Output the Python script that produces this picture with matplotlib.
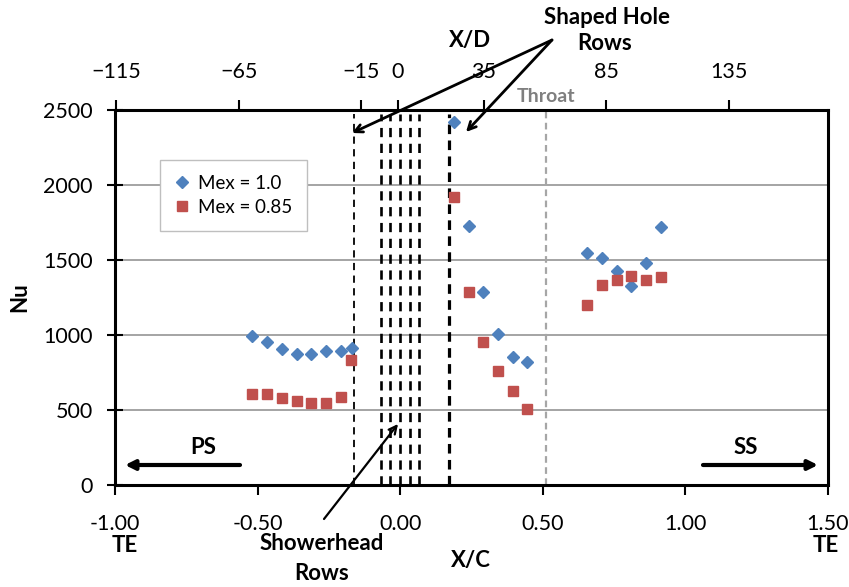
import matplotlib
matplotlib.use("Agg")
import matplotlib.pyplot as plt

# ---------------- data ----------------
xc_mex10 = [-0.520, -0.467, -0.415, -0.362, -0.312, -0.259, -0.208, -0.170,
            0.187, 0.240, 0.292, 0.344, 0.396, 0.446,
            0.655, 0.707, 0.760, 0.810, 0.863, 0.915]
nu_mex10 = [993, 956, 905, 871, 871, 893, 893, 916,
            2418, 1727, 1284, 1004, 851, 818,
            1549, 1516, 1429, 1329, 1482, 1718]

xc_mex085 = [-0.520, -0.467, -0.415, -0.362, -0.312, -0.259, -0.208, -0.173,
             0.187, 0.240, 0.292, 0.344, 0.396, 0.446,
             0.655, 0.707, 0.760, 0.810, 0.863, 0.915]
nu_mex085 = [605, 605, 580, 560, 547, 549, 587, 831,
             1918, 1284, 951, 762, 627, 505,
             1198, 1333, 1367, 1396, 1367, 1384]

showerhead_rows = [-0.066, -0.035, -0.002, 0.033, 0.067]
shaped_rows = [-0.161, 0.172]
throat_xc = 0.51

x_ticks = [-1.0, -0.5, 0.0, 0.5, 1.0, 1.5]
x_ticklabels = ["-1.00", "-0.50", "0.00", "0.50", "1.00", "1.50"]
y_ticks = [0, 500, 1000, 1500, 2000, 2500]
xd_ticks = [-115, -65, -15, 0, 35, 85, 135]

# ---------------- style ----------------
plt.rcParams['font.family'] = ['Lato', 'DejaVu Sans']
BLUE = '#4F81BD'
RED = '#C0504D'
W, H = 849, 587

fig = plt.figure(figsize=(W / 100, H / 100), dpi=100)
ax = fig.add_axes([115 / W, 1 - 485 / H, (828 - 115) / W, (485 - 110) / H])

def fp(x, y):
    return (x / W, 1 - y / H)

ax.set_xlim(-1.0, 1.5)
ax.set_ylim(0, 2500)
ax.set_xticks(x_ticks)
ax.set_xticklabels(x_ticklabels)
ax.set_yticks(y_ticks)
ax.tick_params(axis='x', direction='out', length=7, width=1.5, labelsize=15.5, pad=14)
ax.tick_params(axis='y', direction='inout', length=12, width=1.5, labelsize=15.5, pad=10)
for s in ax.spines.values():
    s.set_linewidth(2.2)
    s.set_color('black')

for y in [500, 1000, 1500, 2000]:
    ax.axhline(y, color='#8c8c8c', lw=1.1, zorder=0)

# row lines
ax.vlines(showerhead_rows, 0, 2470, colors='black', linestyles=(0, (3.5, 2.5)), lw=1.9, zorder=1)
ax.vlines([shaped_rows[0]], 0, 2470, colors='black', linestyles=(0, (4, 3)), lw=1.3, zorder=1)
ax.vlines([shaped_rows[1]], 0, 2470, colors='black', linestyles=(0, (3, 2)), lw=2.3, zorder=1)
ax.vlines([throat_xc], 0, 2500, colors='#a6a6a6', linestyles=(0, (3, 2)), lw=1.6, zorder=1)

ax.plot(xc_mex10, nu_mex10, 'D', color=BLUE, ms=6.5, ls='none', label='Mex = 1.0', zorder=3)
ax.plot(xc_mex085, nu_mex085, 's', color=RED, ms=6.5, ls='none', label='Mex = 0.85', zorder=3)

leg = fig.legend(loc='upper left', bbox_to_anchor=fp(160, 160), borderaxespad=0,
                 fontsize=13.5, frameon=True, fancybox=False, labelspacing=0.35,
                 handlelength=0.7, handletextpad=0.5, borderpad=0.8, framealpha=1)
leg.get_frame().set_edgecolor('#bfbfbf')
leg.get_frame().set_linewidth(1.0)

# top X/D axis
ax2 = ax.twiny()
ax2.set_xlim(-115.5, 175.5)
ax2.set_xticks(xd_ticks)
ax2.tick_params(axis='x', direction='out', length=7, width=1.5, labelsize=15.5, pad=13)
for s in ax2.spines.values():
    s.set_visible(False)

# texts
bold = dict(fontweight='bold', ha='center', va='center', fontsize=16)
fig.text(*fp(607, 17), 'Shaped Hole', **bold)
fig.text(*fp(605, 44), 'Rows', **bold)
fig.text(*fp(470, 40), 'X/D', **bold)
fig.text(*fp(546, 97), 'Throat', color='#7f7f7f', fontweight='bold', ha='center', va='center', fontsize=14)
fig.text(*fp(322, 543), 'Showerhead', **bold)
fig.text(*fp(322, 574), 'Rows', **bold)
fig.text(*fp(471, 561), 'X/C', **bold)
fig.text(*fp(125, 545), 'TE', **bold)
fig.text(*fp(826, 545), 'TE', **bold)
fig.text(*fp(203, 447), 'PS', **bold)
fig.text(*fp(746, 447), 'SS', **bold)
fig.text(*fp(20, 297), 'Nu', rotation=90, **bold)

# arrows
def arrow(tail, head, lw, style):
    fig.patches.append(matplotlib.patches.FancyArrowPatch(
        fp(*tail), fp(*head), transform=fig.transFigure, arrowstyle=style,
        lw=lw, color='black', mutation_scale=14, shrinkA=0, shrinkB=0, zorder=5))

arrow((552, 40), (352, 133), 2.0, '->')
arrow((552, 40), (466, 132), 2.0, '->')
arrow((324, 519), (398, 424), 1.6, '->')
arrow((240, 465), (125, 465), 3.0, '-|>')
arrow((703, 465), (818, 465), 3.0, '-|>')

fig.savefig('out.png', dpi=100)
